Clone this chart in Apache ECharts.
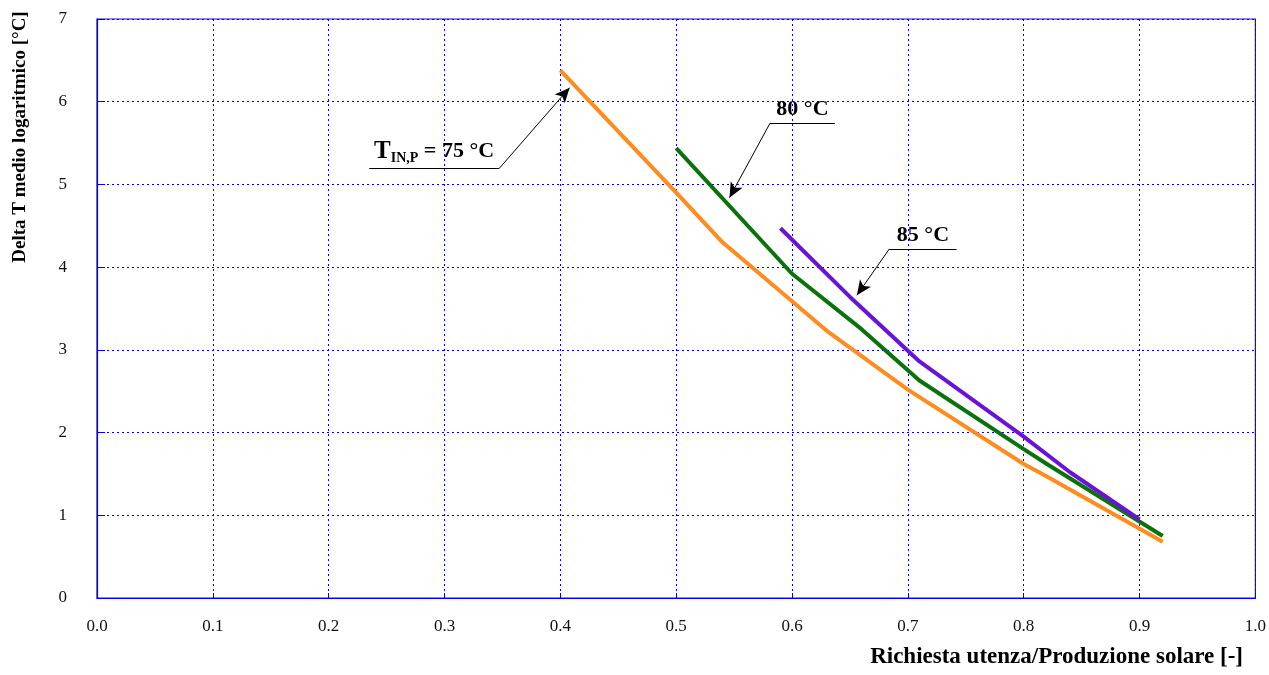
<!DOCTYPE html>
<html><head><meta charset="utf-8">
<script src="https://cdn.jsdelivr.net/npm/echarts@6/dist/echarts.min.js"></script>
<style>html,body{margin:0;padding:0;background:#fff}#c{width:1269px;height:675px}</style>
</head><body><div id="c"></div>
<script>
const x75 = [0.40, 0.50, 0.54, 0.63, 0.70, 0.80, 0.82, 0.92];
const y75 = [6.38, 4.90, 4.30, 3.23, 2.52, 1.62, 1.47, 0.68];
const x80 = [0.50, 0.60, 0.66, 0.71, 0.80, 0.82, 0.92];
const y80 = [5.44, 3.92, 3.25, 2.63, 1.80, 1.62, 0.75];
const x85 = [0.59, 0.65, 0.71, 0.80, 0.84, 0.90];
const y85 = [4.47, 3.64, 2.86, 1.95, 1.52, 0.95];
const yTicks = [0,1,2,3,4,5,6,7];
const xName = 'Richiesta utenza/Produzione solare [-]';
const yName = 'Delta T medio logaritmico [°C]';
// annotation leaders: [underline start, underline end, arrow tip]
const ann75 = [[0.235, 5.19], [0.347, 5.19], [0.408, 6.17]];
const ann80 = [[0.637, 5.74], [0.581, 5.74], [0.546, 4.84]];
const ann85 = [[0.742, 4.22], [0.684, 4.22], [0.656, 3.66]];

const zip = (xs, ys) => xs.map((x, i) => [x, ys[i]]);
const FONT = '"Liberation Serif", "DejaVu Serif", serif';

function leader(a, labelText, rich) {
  return [
    [{coord: a[0], symbol: 'none',
      label: {show: true, position: 'insideMiddleTop', formatter: labelText, rich: rich,
              fontFamily: FONT, fontSize: 22, fontWeight: 'bold', color: '#000', distance: 3}},
     {coord: a[1], symbol: 'none'}],
    [{coord: a[1], symbol: 'none', label: {show: false}},
     {coord: a[2], symbol: 'arrow', symbolSize: [10, 15]}]
  ];
}

const richT = {
  t: {fontFamily: FONT, fontSize: 25, fontWeight: 'bold', color: '#000'},
  s: {fontFamily: FONT, fontSize: 14, fontWeight: 'bold', color: '#000', verticalAlign: 'bottom', padding: [14, 0, 0, 0]},
  r: {fontFamily: FONT, fontSize: 22, fontWeight: 'bold', color: '#000'}
};

const chart = echarts.init(document.getElementById('c'), null, {renderer: 'canvas'});
chart.setOption({
  animation: false,
  backgroundColor: '#fff',
  grid: {left: 97, right: 13, top: 19, bottom: 77, show: true, borderColor: '#1010e0', borderWidth: 1.2},
  xAxis: {
    type: 'value', min: 0, max: 1, interval: 0.1,
    axisLine: {show: true, lineStyle: {color: '#0000ee', width: 1.2}},
    axisTick: {show: true, inside: true, length: 5, lineStyle: {color: '#0000ee'}},
    axisLabel: {color: '#111', fontFamily: FONT, fontSize: 17, margin: 20,
                formatter: v => v.toFixed(1)},
    splitLine: {show: true, lineStyle: {color: '#0000ff', type: [2, 3], width: 1}}
  },
  yAxis: {
    type: 'value', min: 0, max: 7, interval: 1,
    axisLine: {show: true, lineStyle: {color: '#0000ee', width: 1.2}},
    axisTick: {show: true, inside: true, length: 8, lineStyle: {color: '#0000ee'}},
    axisLabel: {color: '#111', fontFamily: FONT, fontSize: 17, margin: 30,
                formatter: v => yTicks.includes(v) ? String(v) : ''},
    splitLine: {show: true, lineStyle: {color: '#0000ff', type: [2, 3], width: 1}}
  },
  graphic: [{
    type: 'text', right: 26, top: 646,
    style: {text: xName, font: 'bold 23px ' + FONT, fill: '#000'}
  }, {
    type: 'text', x: 20, y: 137, rotation: Math.PI / 2,
    style: {text: yName, font: 'bold 19px ' + FONT, fill: '#000', align: 'center', verticalAlign: 'middle'}
  }],
  series: [
    {type: 'line', data: zip(x75, y75), showSymbol: false, symbol: 'none',
     lineStyle: {color: '#FF8C1F', width: 4}, z: 3},
    {type: 'line', data: zip(x80, y80), showSymbol: false, symbol: 'none',
     lineStyle: {color: '#0A720A', width: 4}, z: 3},
    {type: 'line', data: zip(x85, y85), showSymbol: false, symbol: 'none',
     lineStyle: {color: '#6A12D6', width: 4}, z: 3},
    {type: 'line', data: [], z: 4,
     markLine: {
       silent: true, animation: false, symbol: ['none', 'arrow'],
       lineStyle: {color: '#000', width: 1, type: 'solid'},
       emphasis: {disabled: true},
       data: [].concat(
         leader(ann75, '{t|T}{s|IN,P}{r| = 75 °C}', richT),
         leader(ann80, '80 °C', null),
         leader(ann85, '85 °C', null)
       )
     }}
  ]
});
</script></body></html>
